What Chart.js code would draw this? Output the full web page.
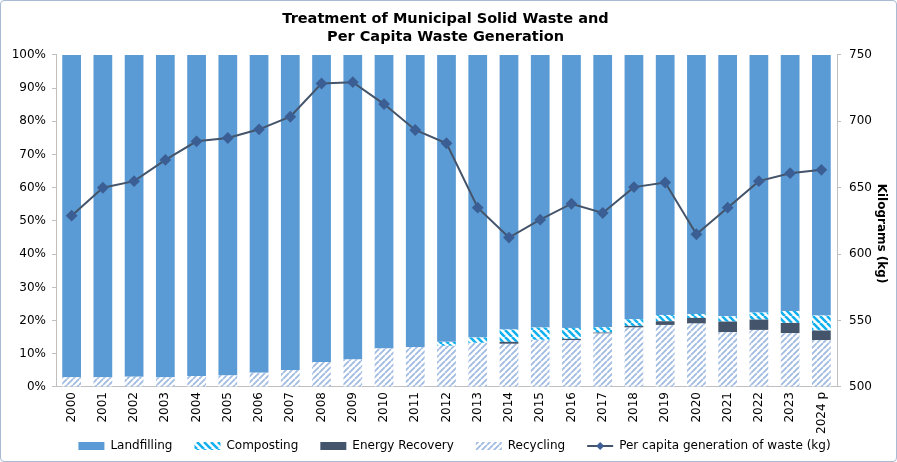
<!DOCTYPE html>
<html>
<head>
<meta charset="utf-8">
<script src="https://cdn.jsdelivr.net/npm/chart.js@4.4.1/dist/chart.umd.min.js"></script>
<style>
  html, body { margin: 0; padding: 0; background: #fff; }
  #wrap {
    width: 897px; height: 462px; box-sizing: border-box;
    border: 1px solid #a9bad3; border-radius: 4px; overflow: hidden;
  }
  canvas { display: block; }
</style>
</head>
<body>
<div id="wrap"><canvas id="chart" width="895" height="460"></canvas></div>
<script>
// chart values
const years = ['2000', '2001', '2002', '2003', '2004', '2005', '2006', '2007', '2008', '2009',
  '2010', '2011', '2012', '2013', '2014', '2015', '2016', '2017', '2018', '2019',
  '2020', '2021', '2022', '2023', '2024 p'];

const recycling = [2.9, 2.9, 3.1, 2.9, 3.3, 3.5, 4.3, 5.1, 7.5, 8.3,
  11.6, 12.0, 12.4, 13.3, 13.0, 14.2, 14.1, 16.1, 17.9, 18.7,
  19.1, 16.5, 17.2, 16.2, 14.1];
const energyRecovery = [0, 0, 0, 0, 0, 0, 0, 0, 0, 0,
  0, 0, 0, 0, 0.6, 0, 0.4, 0.3, 0.5, 1.1,
  1.7, 3.2, 3.1, 3.1, 2.9];
const composting = [0, 0, 0, 0, 0, 0, 0, 0, 0, 0,
  0, 0, 1.2, 1.6, 3.7, 3.7, 3.3, 1.6, 2.0, 1.9,
  1.2, 1.6, 2.1, 3.6, 4.5];
const landfilling = [97.1, 97.1, 96.9, 97.1, 96.7, 96.5, 95.7, 94.9, 92.5, 91.7,
  88.4, 88.0, 86.4, 85.1, 82.7, 82.1, 82.2, 82.0, 79.6, 78.3,
  78.0, 78.7, 77.6, 77.1, 78.5];
const perCapita = [629, 650, 655, 671, 685, 687.5, 694, 703.5, 728.5, 729.5,
  713, 693.5, 683.5, 635, 612.5, 626, 638, 631, 650.5, 654,
  615, 635, 655, 661, 663.5];

const pctTicks = [0, 10, 20, 30, 40, 50, 60, 70, 80, 90, 100];
const kgTicks = [500, 550, 600, 650, 700, 750];

const FONT = "'DejaVu Sans', Verdana, sans-serif";

// striped fills
function stripes(color, size, width, rising) {
  const c = document.createElement('canvas');
  c.width = size; c.height = size;
  const g = c.getContext('2d');
  g.fillStyle = '#fff';
  g.fillRect(0, 0, size, size);
  g.strokeStyle = color;
  g.lineWidth = width;
  g.beginPath();
  for (let k = -1; k <= 1; k++) {
    if (rising) {
      g.moveTo(k * size, size); g.lineTo(k * size + size, 0);
    } else {
      g.moveTo(k * size, 0); g.lineTo(k * size + size, size);
    }
  }
  g.stroke();
  return g.createPattern(c, 'repeat');
}

const recyclingFill = stripes('#a0bae1', 6, 1.8, true);
const compostingFill = stripes('#12b0ef', 7, 2.6, false);

// legend order differs from stacking order
const legendRank = [3, 2, 1, 0, 4];

// keep the wide item spacing without the tall legend box, nudge it right
const legendHeight = {
  id: 'legendHeight',
  beforeInit(chart) {
    const lg = chart.legend;
    const fit = lg.fit;
    lg.fit = function () {
      fit.call(this);
      this.height = 43;
    };
  },
  afterLayout(chart) {
    chart.legend.left += 9;
    chart.legend.right += 9;
  }
};

const lineMarker = {
  id: 'lineMarker',
  afterDraw(chart) {
    const lg = chart.legend;
    if (!lg || !lg.legendItems) return;
    const i = lg.legendItems.findIndex(it => it.datasetIndex === 4);
    if (i < 0) return;
    const box = lg.legendHitBoxes[i];
    const cx = box.left + 13;
    const cy = box.top + box.height / 2;
    const ctx = chart.ctx;
    ctx.save();
    ctx.fillStyle = '#3b5f94';
    ctx.beginPath();
    ctx.moveTo(cx, cy - 4); ctx.lineTo(cx + 4, cy);
    ctx.lineTo(cx, cy + 4); ctx.lineTo(cx - 4, cy);
    ctx.closePath();
    ctx.fill();
    ctx.restore();
  }
};

const barOpts = { type: 'bar', yAxisID: 'y', barPercentage: 0.6, categoryPercentage: 1, order: 1, borderWidth: 0 };

new Chart(document.getElementById('chart'), {
  data: {
    labels: years,
    datasets: [
      Object.assign({ label: 'Recycling', data: recycling, backgroundColor: recyclingFill }, barOpts),
      Object.assign({ label: 'Energy Recovery', data: energyRecovery, backgroundColor: '#44546a' }, barOpts),
      Object.assign({ label: 'Composting', data: composting, backgroundColor: compostingFill }, barOpts),
      Object.assign({ label: 'Landfilling', data: landfilling, backgroundColor: '#5b9bd5' }, barOpts),
      {
        type: 'line', label: 'Per capita generation of waste (kg)', data: perCapita, yAxisID: 'y1',
        borderColor: '#44546a', borderWidth: 2, backgroundColor: '#3b5f94',
        pointStyle: 'rectRot', pointRadius: 4.5, pointBackgroundColor: '#3b5f94', pointBorderColor: '#3b5f94',
        tension: 0, order: 0
      }
    ]
  },
  options: {
    responsive: false,
    animation: false,
    layout: { padding: { top: 0, bottom: 0, left: 0, right: 6 } },
    plugins: {
      title: {
        display: true,
        text: ['Treatment of Municipal Solid Waste and', 'Per Capita Waste Generation'],
        color: '#000',
        font: { family: FONT, size: 14.5, weight: 'bold', lineHeight: 1.24 },
        padding: { top: 9, bottom: 9 }
      },
      legend: {
        position: 'bottom',
        labels: {
          color: '#000',
          font: { family: FONT, size: 12 },
          usePointStyle: true,
          pointStyleWidth: 26,
          boxHeight: 8,
          padding: 22,
          sort: (a, b) => legendRank[a.datasetIndex] - legendRank[b.datasetIndex],
          generateLabels(chart) {
            const items = Chart.defaults.plugins.legend.labels.generateLabels(chart);
            items.forEach(it => {
              if (it.datasetIndex === 4) {
                it.pointStyle = 'line';
                it.strokeStyle = '#44546a';
                it.lineWidth = 2;
              } else {
                it.pointStyle = 'rect';
                it.lineWidth = 0;
              }
            });
            return items;
          }
        }
      },
      tooltip: { enabled: false }
    },
    scales: {
      x: {
        stacked: true,
        afterFit: s => {
          s.height = 31;
          // let the long rotated labels run past the axis box
          s._computeLabelArea = () => undefined;
        },
        grid: { display: false, drawTicks: false },
        border: { color: '#bfbfbf' },
        ticks: { color: '#000', font: { family: FONT, size: 12 }, maxRotation: 90, minRotation: 90, autoSkip: false, padding: 5 }
      },
      y: {
        stacked: true,
        position: 'left',
        min: 0, max: 100,
        afterBuildTicks: s => { s.ticks = pctTicks.map(v => ({ value: v })); },
        afterFit: s => { s.width = 55; },
        grid: { drawOnChartArea: false, tickLength: 4, color: '#bfbfbf' },
        border: { color: '#bfbfbf' },
        ticks: { color: '#000', font: { family: FONT, size: 12 }, callback: v => v + '%', padding: 6 }
      },
      y1: {
        position: 'right',
        min: 500, max: 750,
        afterBuildTicks: s => { s.ticks = kgTicks.map(v => ({ value: v })); },
        afterFit: s => { s.width = 53; },
        grid: { drawOnChartArea: false, tickLength: 4, color: '#bfbfbf' },
        border: { color: '#bfbfbf' },
        title: { display: true, text: '      Kilograms (kg)', color: '#000', font: { family: FONT, size: 12, weight: 'bold' }, padding: { top: 2, bottom: 0 } },
        ticks: { color: '#000', font: { family: FONT, size: 12 }, padding: 8 }
      }
    }
  },
  plugins: [legendHeight, lineMarker]
});
</script>
</body>
</html>
